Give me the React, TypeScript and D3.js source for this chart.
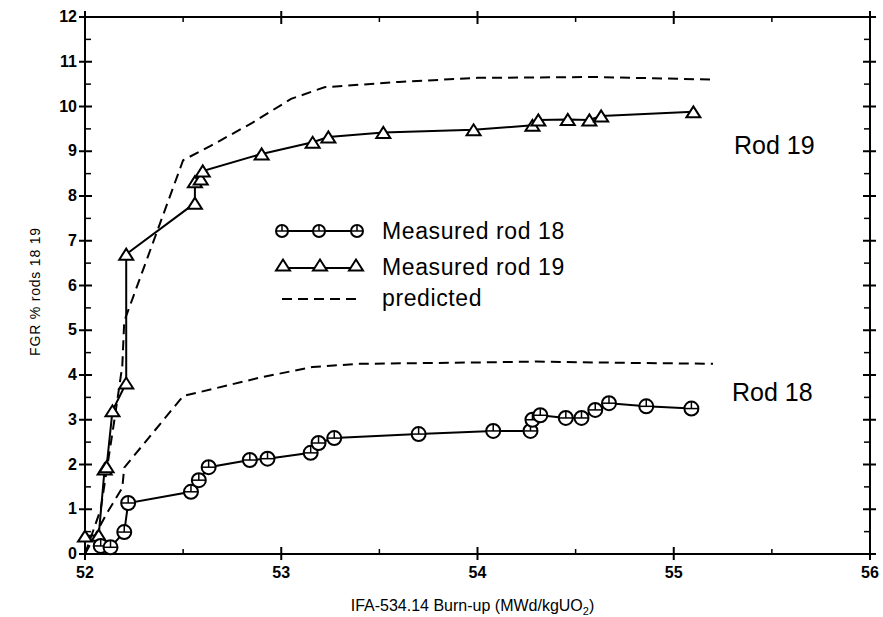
import React from "react";
import * as d3 from "d3";

const rod18X = [52.08, 52.13, 52.20, 52.22, 52.54, 52.58, 52.63, 52.84, 52.93, 53.15, 53.19, 53.27, 53.70, 54.08, 54.27, 54.28, 54.32, 54.45, 54.53, 54.60, 54.67, 54.86, 55.09];
const rod18Y = [0.18, 0.15, 0.49, 1.14, 1.39, 1.65, 1.94, 2.10, 2.13, 2.26, 2.48, 2.59, 2.68, 2.75, 2.75, 3.00, 3.10, 3.04, 3.04, 3.22, 3.37, 3.30, 3.25];

const rod19X = [52.00, 52.07, 52.10, 52.11, 52.14, 52.21, 52.21, 52.56, 52.56, 52.59, 52.60, 52.90, 53.16, 53.24, 53.52, 53.98, 54.28, 54.31, 54.46, 54.57, 54.63, 55.10];
const rod19Y = [0.40, 0.42, 1.90, 1.95, 3.20, 3.82, 6.70, 7.84, 8.32, 8.38, 8.56, 8.94, 9.20, 9.32, 9.42, 9.48, 9.58, 9.70, 9.71, 9.70, 9.79, 9.88];

const pred18X = [52.0, 52.11, 52.19, 52.20, 52.5, 52.9, 53.16, 53.4, 54.0, 54.3, 54.6, 55.2];
const pred18Y = [0, 0.9, 1.48, 1.93, 3.53, 3.95, 4.18, 4.25, 4.28, 4.30, 4.28, 4.25];

const pred19X = [52.0, 52.08, 52.15, 52.19, 52.20, 52.5, 52.64, 52.85, 53.05, 53.22, 53.6, 54.0, 54.6, 55.2];
const pred19Y = [0, 1.0, 3.0, 4.2, 5.2, 8.8, 9.12, 9.63, 10.17, 10.43, 10.55, 10.64, 10.66, 10.6];

const xTicks = [52, 53, 54, 55, 56];
const yTicks = [0, 1, 2, 3, 4, 5, 6, 7, 8, 9, 10, 11, 12];
const legendLabels = ["Measured rod 18", "Measured rod 19", "predicted"];
const xTitle = "IFA-534.14 Burn-up (MWd/kgUO";
const yTitle = "FGR % rods 18  19";

const W = 883, H = 617;
const L = 85, R = 870, T = 17, B = 554;
const FONT = "'Liberation Sans', Arial, Helvetica, sans-serif";

const x = d3.scaleLinear().domain([52, 56]).range([L, R]);
const y = d3.scaleLinear().domain([0, 12]).range([B, T]);

const zip = (xs: number[], ys: number[]) => xs.map((v, i) => [v, ys[i]] as [number, number]);
const line = d3.line<[number, number]>().x(d => x(d[0])).y(d => y(d[1]));

function Circ({ cx, cy, r = 7 }: { cx: number; cy: number; r?: number }) {
  return (
    <g>
      <circle cx={cx} cy={cy} r={r} fill="white" stroke="black" strokeWidth={2} />
      <line x1={cx - r} x2={cx + r} y1={cy} y2={cy} stroke="black" strokeWidth={1.5} />
      <line x1={cx} x2={cx} y1={cy} y2={cy - r} stroke="black" strokeWidth={1.5} />
    </g>
  );
}

function Tri({ cx, cy }: { cx: number; cy: number }) {
  const w = 7, h = 11;
  const p = `M${cx - w},${cy + h / 2} L${cx},${cy - h / 2} L${cx + w},${cy + h / 2} Z`;
  return <path d={p} fill="white" stroke="black" strokeWidth={2} strokeLinejoin="miter" />;
}

export default function App() {
  const xMinor = d3.range(52.5, 56, 1);
  const yMinor = d3.range(0.5, 12, 1);
  const r18 = zip(rod18X, rod18Y);
  const r19 = zip(rod19X, rod19Y);
  return (
    <div style={{ position: "fixed", left: 0, top: 0 }}>
      <svg width={W} height={H} style={{ display: "block", background: "white" }} fontFamily={FONT}>
        <rect x={L} y={T} width={R - L} height={B - T} fill="none" stroke="black" strokeWidth={2} />
        {xTicks.map(t => (
          <g key={"xt" + t}>
            <line x1={x(t)} x2={x(t)} y1={B - 7} y2={B + 6} stroke="black" strokeWidth={2} />
            <line x1={x(t)} x2={x(t)} y1={T - 6} y2={T + 7} stroke="black" strokeWidth={2} />
            <text x={x(t)} y={B + 24} textAnchor="middle" fontSize={16} fontWeight="bold">{t}</text>
          </g>
        ))}
        {xMinor.map(t => (
          <g key={"xm" + t}>
            <line x1={x(t)} x2={x(t)} y1={B - 5} y2={B} stroke="black" strokeWidth={1.5} />
            <line x1={x(t)} x2={x(t)} y1={T} y2={T + 5} stroke="black" strokeWidth={1.5} />
          </g>
        ))}
        {yTicks.map(t => (
          <g key={"yt" + t}>
            <line x1={L - 6} x2={L + 7} y1={y(t)} y2={y(t)} stroke="black" strokeWidth={2} />
            <line x1={R - 7} x2={R + 6} y1={y(t)} y2={y(t)} stroke="black" strokeWidth={2} />
            <text x={L - 8} y={y(t) + 5} textAnchor="end" fontSize={16} fontWeight="bold">{t}</text>
          </g>
        ))}
        {yMinor.map(t => (
          <g key={"ym" + t}>
            <line x1={L} x2={L + 6} y1={y(t)} y2={y(t)} stroke="black" strokeWidth={1.5} />
            <line x1={R - 6} x2={R} y1={y(t)} y2={y(t)} stroke="black" strokeWidth={1.5} />
          </g>
        ))}
        <path d={line(zip(pred19X, pred19Y)) || ""} fill="none" stroke="black" strokeWidth={2} strokeDasharray="10,6" />
        <path d={line(zip(pred18X, pred18Y)) || ""} fill="none" stroke="black" strokeWidth={2} strokeDasharray="10,6" />
        <path d={line(r19) || ""} fill="none" stroke="black" strokeWidth={2} />
        <path d={line(r18) || ""} fill="none" stroke="black" strokeWidth={2} />
        {r19.map((d, i) => <Tri key={"t" + i} cx={x(d[0])} cy={y(d[1])} />)}
        {r18.map((d, i) => <Circ key={"c" + i} cx={x(d[0])} cy={y(d[1])} />)}
        <g>
          <line x1={282} x2={357} y1={231} y2={231} stroke="black" strokeWidth={2} />
          {[282, 319, 357].map(cx => <Circ key={"lc" + cx} cx={cx} cy={231} r={6} />)}
          <text x={382} y={239} fontSize={23} letterSpacing={0.6}>{legendLabels[0]}</text>
          <line x1={283} x2={356} y1={268} y2={268} stroke="black" strokeWidth={2} />
          {[283, 320, 356].map(cx => <Tri key={"lt" + cx} cx={cx} cy={265} />)}
          <text x={382} y={275} fontSize={23} letterSpacing={0.6}>{legendLabels[1]}</text>
          <line x1={282} x2={358} y1={299} y2={299} stroke="black" strokeWidth={2} strokeDasharray="10,6" />
          <text x={382} y={306} fontSize={23} letterSpacing={0.6}>{legendLabels[2]}</text>
        </g>
        <text x={734} y={154} fontSize={25}>Rod 19</text>
        <text x={732} y={401} fontSize={25}>Rod 18</text>
        <text x={(L + R) / 2 - 5} y={611} textAnchor="middle" fontSize={16}>
          {xTitle}<tspan dy={4} fontSize={11}>2</tspan><tspan dy={-4}>)</tspan>
        </text>
        <text transform={`translate(40, ${(T + B) / 2 + 6}) rotate(-90)`} textAnchor="middle" fontSize={14} letterSpacing={0.8}>{yTitle}</text>
      </svg>
    </div>
  );
}
